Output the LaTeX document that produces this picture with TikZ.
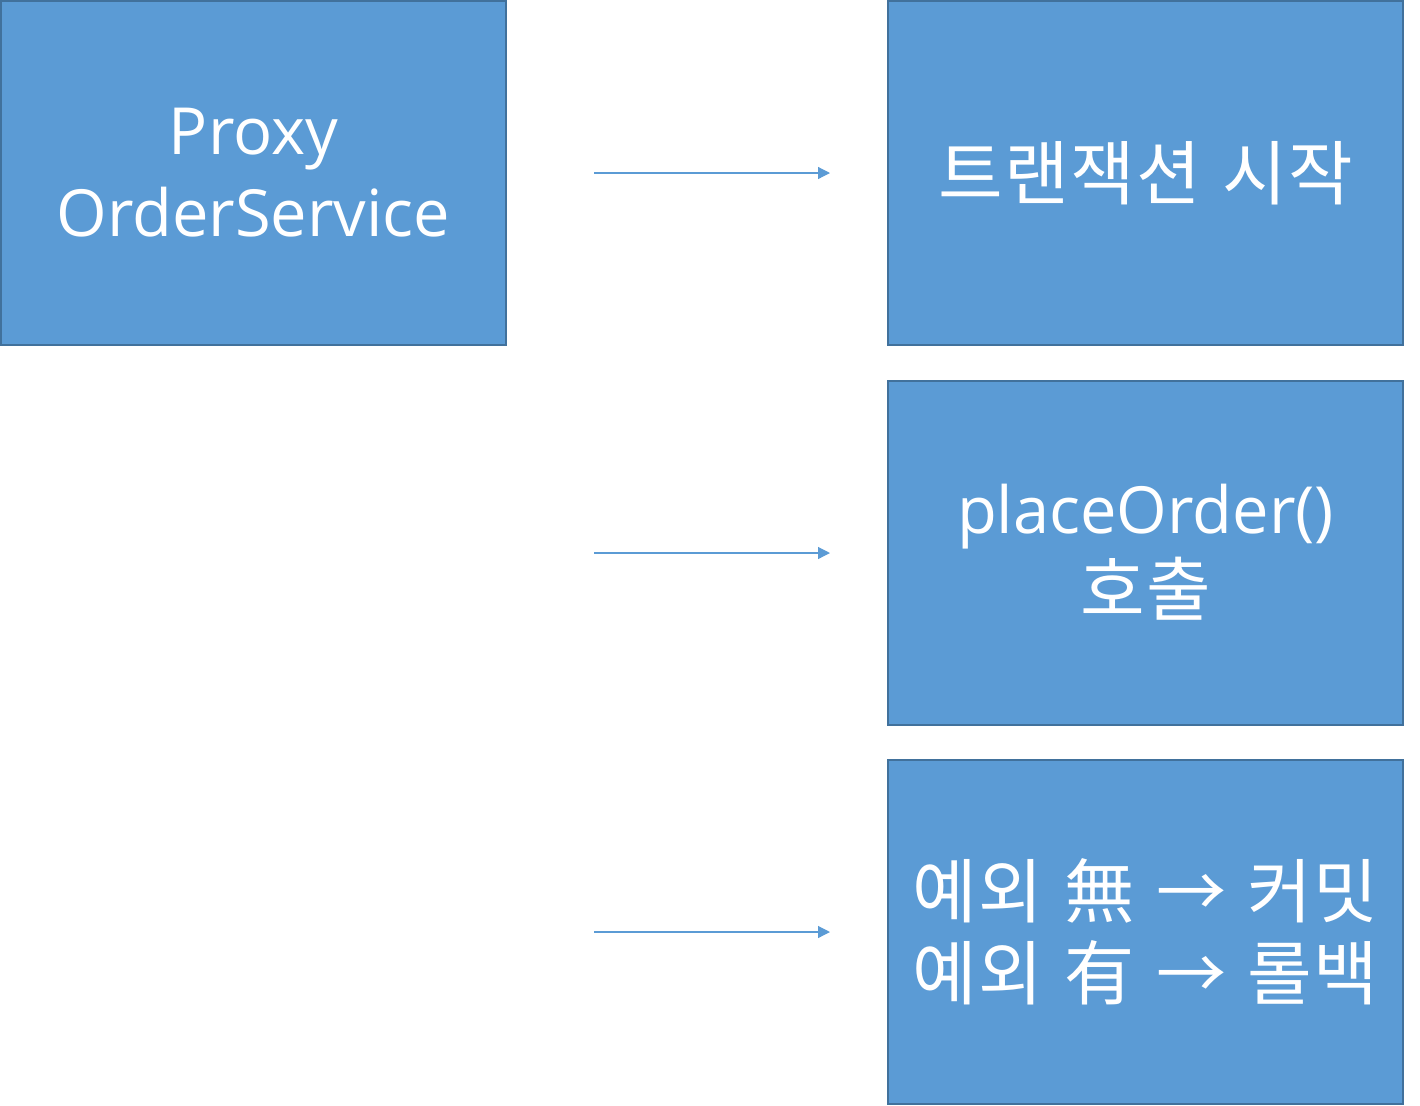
\documentclass[tikz,border=0pt]{standalone}
\usepackage{fontspec}
\setmainfont{Open Sans}
\newfontfamily\cjk[Scale=1.08,LetterSpace=2,WordSpace=1.25]{Noto Sans CJK KR}
\usetikzlibrary{arrows.meta}
\definecolor{boxfill}{HTML}{5B9BD5}
\definecolor{boxline}{HTML}{41719C}
\begin{document}
\begin{tikzpicture}[x=0.5pt,y=-0.5pt,
  box/.style={draw=boxline,line width=1pt,fill=boxfill,text=white,align=center,inner sep=0pt,
    font=\fontsize{32.5}{41}\selectfont},
  lbox/.style={box,minimum width=252.5pt,minimum height=172pt},
  rbox/.style={box,minimum width=257.5pt,minimum height=172pt},
  conn/.style={draw=boxfill,line width=0.6pt,-{Triangle[length=6pt,width=6pt]}}]
\useasboundingbox (0,0) rectangle (1420,1105);
\node[lbox] (proxy) at (253.5,173) {Proxy\\OrderService};
\node[rbox] (tx) at (1145.5,173) {\cjk 트랜잭션 시작};
\node[rbox] (call) at (1145.5,552.5) {placeOrder()\\{\cjk 호출}};
\node[rbox] (end) at (1145.5,932) {\cjk 예외 無 → 커밋\\\cjk 예외 有 → 롤백};
\coordinate (s1) at (594,173);
\coordinate (e1) at (830,173);
\coordinate (s2) at (594,553);
\coordinate (e2) at (830,553);
\coordinate (s3) at (594,932);
\coordinate (e3) at (830,932);
\draw[conn] (s1) -- (e1);
\draw[conn] (s2) -- (e2);
\draw[conn] (s3) -- (e3);
\end{tikzpicture}
\end{document}
